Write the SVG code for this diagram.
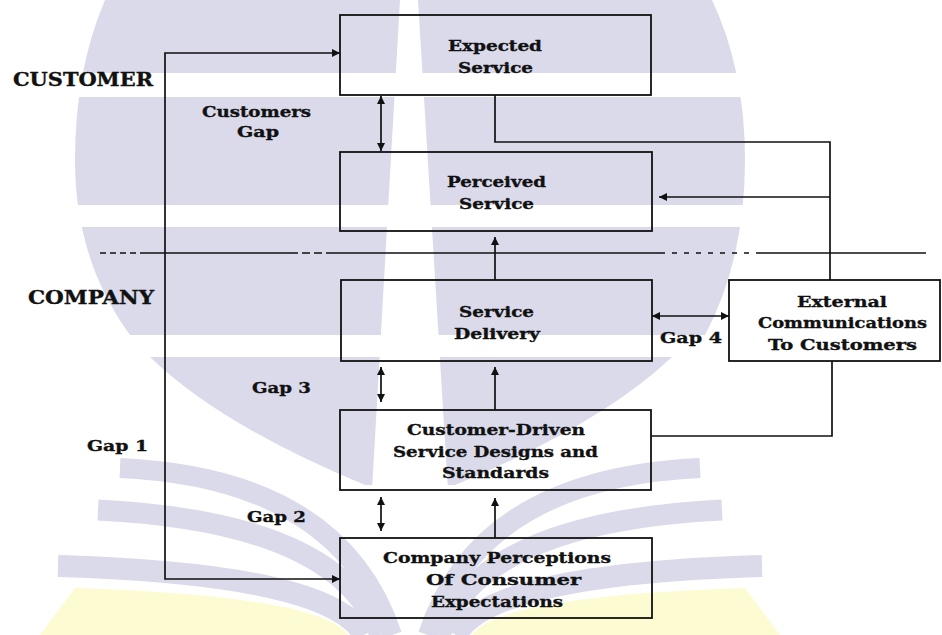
<svg xmlns="http://www.w3.org/2000/svg" width="942" height="635" viewBox="0 0 942 635">
<style>
.t{font-family:"DejaVu Serif","Liberation Serif",serif;font-weight:bold;font-size:15.5px;fill:#111;stroke:#111;stroke-width:0.35}
.h{font-size:18px}
.box{fill:none;stroke:#111;stroke-width:1.8}
.c{fill:none;stroke:#111;stroke-width:1.7}
.wm{fill:#dadaeb}
.ws{fill:none;stroke:#dadaeb}
</style>
<defs>
<marker id="ah" viewBox="0 0 10 10" refX="10" refY="5" markerWidth="9" markerHeight="8" markerUnits="userSpaceOnUse" orient="auto-start-reverse">
<path d="M0,0 L10,5 L0,10 z" fill="#111"/>
</marker>
</defs>
<rect width="942" height="635" fill="#fff"/>
<g id="watermark">
<path class="wm" d="M105,0 L712,0 Q745,70 745,160 Q745,260 705,335 L130,335 Q75,260 75,160 Q75,70 105,0 Z"/>
<path class="wm" d="M150,357 L672,357 Q600,425 455,485 L365,485 Q220,425 150,357 Z"/>
<rect x="0" y="73" width="942" height="24" fill="#fff"/>
<rect x="0" y="205" width="942" height="22" fill="#fff"/>
<rect x="0" y="335" width="942" height="22" fill="#fff"/>
<polygon points="400,0 418,0 448,490 372,490" fill="#fff"/>
<path d="M75,588 Q320,596 348,635 L40,635 Z" fill="#fdfbd2"/>
<path d="M745,588 Q500,596 472,635 L780,635 Z" fill="#fdfbd2"/>
<path class="ws" stroke-width="20" d="M120,468 Q340,478 392,635"/>
<path class="ws" stroke-width="21" d="M98,510 Q340,522 380,635"/>
<path class="ws" stroke-width="22" d="M58,566 Q330,574 364,635"/>
<path class="ws" stroke-width="20" d="M700,468 Q480,478 428,635"/>
<path class="ws" stroke-width="21" d="M722,510 Q480,522 440,635"/>
<path class="ws" stroke-width="22" d="M762,566 Q490,574 456,635"/>
</g>
<g id="labels">
<text class="t h" x="13" y="86" textLength="140" lengthAdjust="spacingAndGlyphs">CUSTOMER</text>
<text class="t h" x="28" y="304" textLength="126" lengthAdjust="spacingAndGlyphs">COMPANY</text>
<text class="t" x="202" y="117" textLength="109" lengthAdjust="spacingAndGlyphs">Customers</text>
<text class="t" x="237" y="137" textLength="42" lengthAdjust="spacingAndGlyphs">Gap</text>
<text class="t" x="252" y="393" textLength="59" lengthAdjust="spacingAndGlyphs">Gap 3</text>
<text class="t" x="87" y="451" textLength="61" lengthAdjust="spacingAndGlyphs">Gap 1</text>
<text class="t" x="247" y="522" textLength="59" lengthAdjust="spacingAndGlyphs">Gap 2</text>
<text class="t" x="660" y="343" textLength="62" lengthAdjust="spacingAndGlyphs">Gap 4</text>
</g>
<g id="connectors">
<line class="c" x1="100" y1="253" x2="145" y2="253" stroke-dasharray="6 4"/>
<line class="c" x1="145" y1="253" x2="290" y2="253"/>
<line class="c" x1="290" y1="253" x2="330" y2="253" stroke-dasharray="8 4"/>
<line class="c" x1="330" y1="253" x2="660" y2="253"/>
<line class="c" x1="660" y1="253" x2="760" y2="253" stroke-dasharray="5 7"/>
<line class="c" x1="760" y1="253" x2="926" y2="253"/>
<path class="c" d="M340,53 H165 V579 H340" marker-start="url(#ah)" marker-end="url(#ah)"/>
<path class="c" d="M381,96 V151" marker-start="url(#ah)" marker-end="url(#ah)"/>
<path class="c" d="M381,367 V402" marker-start="url(#ah)" marker-end="url(#ah)"/>
<path class="c" d="M381,497 V531" marker-start="url(#ah)" marker-end="url(#ah)"/>
<path class="c" d="M652,316 H729" marker-start="url(#ah)" marker-end="url(#ah)"/>
<path class="c" d="M495,95 V142 H830 V280"/>
<path class="c" d="M830,197 H659" marker-end="url(#ah)"/>
<path class="c" d="M495,280 V237" marker-end="url(#ah)"/>
<path class="c" d="M495,410 V367" marker-end="url(#ah)"/>
<path class="c" d="M495,538 V498" marker-end="url(#ah)"/>
<path class="c" d="M651,436 H832 V361"/>
</g>
<g id="expected">
<rect class="box" x="340" y="15" width="311" height="80"/>
<text class="t" x="448" y="51" textLength="94" lengthAdjust="spacingAndGlyphs">Expected</text>
<text class="t" x="458" y="73" textLength="75" lengthAdjust="spacingAndGlyphs">Service</text>
</g>
<g id="perceived">
<rect class="box" x="340" y="152" width="312" height="79"/>
<text class="t" x="447" y="187" textLength="99" lengthAdjust="spacingAndGlyphs">Perceived</text>
<text class="t" x="459" y="209" textLength="75" lengthAdjust="spacingAndGlyphs">Service</text>
</g>
<g id="delivery">
<rect class="box" x="341" y="280" width="311" height="81"/>
<text class="t" x="459" y="317" textLength="75" lengthAdjust="spacingAndGlyphs">Service</text>
<text class="t" x="454" y="339" textLength="86" lengthAdjust="spacingAndGlyphs">Delivery</text>
</g>
<g id="designs">
<rect class="box" x="340" y="410" width="311" height="80"/>
<text class="t" x="407" y="435" textLength="178" lengthAdjust="spacingAndGlyphs">Customer-Driven</text>
<text class="t" x="393" y="457" textLength="205" lengthAdjust="spacingAndGlyphs">Service Designs and</text>
<text class="t" x="442" y="478" textLength="107" lengthAdjust="spacingAndGlyphs">Standards</text>
</g>
<g id="perceptions">
<rect class="box" x="340" y="538" width="312" height="80"/>
<text class="t" x="383" y="563" textLength="228" lengthAdjust="spacingAndGlyphs">Company Perceptions</text>
<text class="t" x="426" y="585" textLength="155" lengthAdjust="spacingAndGlyphs">Of Consumer</text>
<text class="t" x="431" y="607" textLength="132" lengthAdjust="spacingAndGlyphs">Expectations</text>
</g>
<g id="external">
<rect class="box" x="729" y="280" width="211" height="81"/>
<text class="t" x="797" y="307" textLength="90" lengthAdjust="spacingAndGlyphs">External</text>
<text class="t" x="758" y="328" textLength="169" lengthAdjust="spacingAndGlyphs">Communications</text>
<text class="t" x="768" y="350" textLength="149" lengthAdjust="spacingAndGlyphs">To Customers</text>
</g>
</svg>
